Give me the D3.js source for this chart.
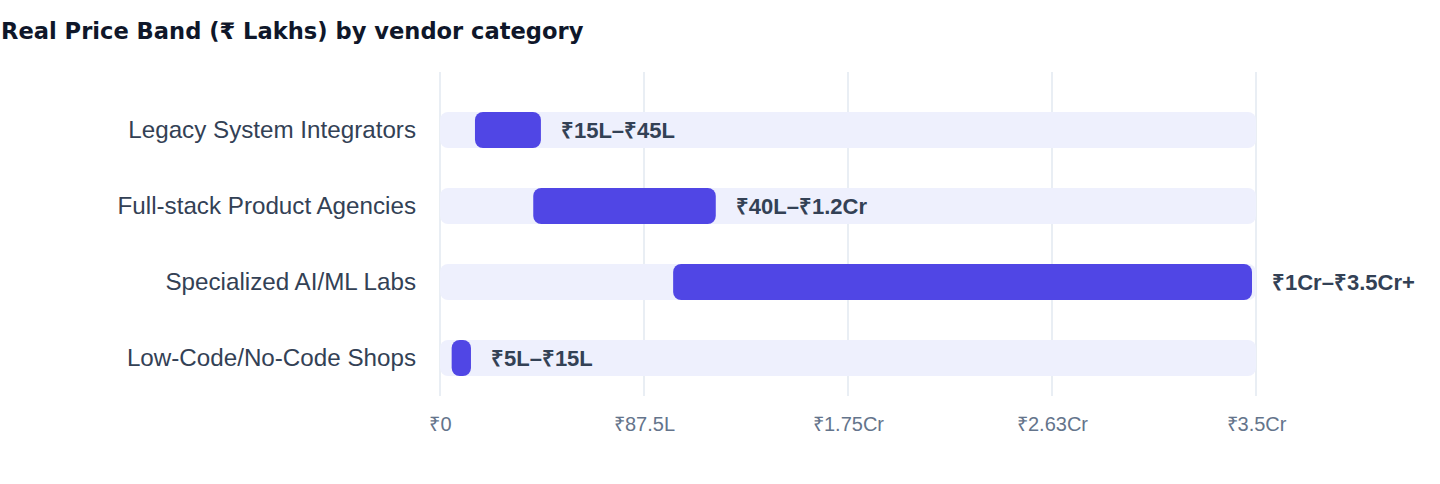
<!DOCTYPE html>
<html>
<head>
<meta charset="utf-8">
<script src="https://cdn.jsdelivr.net/npm/d3@7/dist/d3.min.js"></script>
<style>
  html, body { margin: 0; padding: 0; background: #ffffff; }
  svg { display: block; font-family: "Liberation Sans", Arial, Helvetica, sans-serif; }
</style>
</head>
<body>
<svg id="chart" width="1440" height="484"></svg>
<script>
// ---- data ----
const categories = ["Legacy System Integrators", "Full-stack Product Agencies", "Specialized AI/ML Labs", "Low-Code/No-Code Shops"];
const lowValues = [15, 40, 100, 5];      // ₹ Lakhs
const highValues = [45, 120, 350, 15];   // ₹ Lakhs
const bandLabels = ["₹15L–₹45L", "₹40L–₹1.2Cr", "₹1Cr–₹3.5Cr+", "₹5L–₹15L"];
const tickValues = [0, 87.5, 175, 262.5, 350];
const tickLabels = ["₹0", "₹87.5L", "₹1.75Cr", "₹2.63Cr", "₹3.5Cr"];
const axisMax = 350;

const rows = categories.map((c, i) => ({ cat: c, lo: lowValues[i], hi: highValues[i], label: bandLabels[i] }));

const svg = d3.select("#chart");
const plotLeft = 440, plotRight = 1256, gridTop = 72, gridBottom = 396;

const x = d3.scaleLinear().domain([0, axisMax]).range([plotLeft, plotRight]);
const y = d3.scaleBand().domain(categories).range([92, 396]).paddingInner(0).paddingOuter(0);
const barH = 36;

// title
svg.append("text")
  .attr("x", 1).attr("y", 39)
  .attr("font-family", "\"DejaVu Sans\", \"Liberation Sans\", Arial, sans-serif")
  .attr("font-size", 22.6).attr("font-weight", 700)
  .attr("fill", "#0f172a")
  .text("Real Price Band (₹ Lakhs) by vendor category");

// grid lines
svg.append("g").selectAll("line").data(tickValues).join("line")
  .attr("x1", d => x(d)).attr("x2", d => x(d))
  .attr("y1", gridTop).attr("y2", gridBottom)
  .attr("stroke", "#e2e8f0").attr("stroke-width", 1.5);

// x axis tick labels via d3 axis
const xAxis = d3.axisBottom(x).tickValues(tickValues).tickSize(0).tickPadding(0)
  .tickFormat((d, i) => tickLabels[i]);
const gx = svg.append("g").attr("transform", `translate(0, 416)`).call(xAxis);
gx.select(".domain").remove();
gx.selectAll("text").attr("font-size", 20).attr("fill", "#64748b")
  .attr("font-family", "\"Liberation Sans\", Arial, sans-serif").attr("dy", "0.76em");

// category labels
svg.append("g").selectAll("text").data(rows).join("text")
  .attr("x", plotLeft - 24)
  .attr("y", d => y(d.cat) + y.bandwidth() / 2)
  .attr("dy", "0.35em")
  .attr("text-anchor", "end")
  .attr("font-size", 24.2).attr("fill", "#334155")
  .text(d => d.cat);

// background track bars
svg.append("g").selectAll("rect").data(rows).join("rect")
  .attr("x", x(0))
  .attr("y", d => y(d.cat) + y.bandwidth() / 2 - barH / 2)
  .attr("width", x(axisMax) - x(0))
  .attr("height", barH)
  .attr("rx", 8).attr("ry", 8)
  .attr("fill", "#eef0fd");

// range bars
svg.append("g").selectAll("rect").data(rows).join("rect")
  .attr("x", d => x(d.lo))
  .attr("y", d => y(d.cat) + y.bandwidth() / 2 - barH / 2)
  .attr("width", d => Math.max(0, x(d.hi) - x(d.lo) - 4))
  .attr("height", barH)
  .attr("rx", 8).attr("ry", 8)
  .attr("fill", "#5046e5");

// value labels
svg.append("g").selectAll("text").data(rows).join("text")
  .attr("x", d => x(d.hi) + 16)
  .attr("y", d => y(d.cat) + y.bandwidth() / 2)
  .attr("dy", "0.35em")
  .attr("font-size", 22).attr("font-weight", 700)
  .attr("fill", "#334155")
  .text(d => d.label);
</script>
</body>
</html>
